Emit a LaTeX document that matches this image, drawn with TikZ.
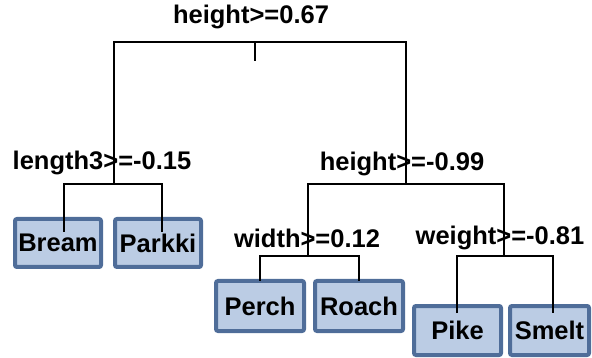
\documentclass[tikz,border=0pt]{standalone}
\usepackage{fontspec}
\setmainfont{Liberation Sans}
\definecolor{boxline}{HTML}{4F6D99}
\definecolor{boxfill}{HTML}{BBCCE4}
\tikzset{
  splitlabel/.style={font=\fontsize{25.5}{30}\selectfont\bfseries, inner sep=0pt, text=black},
  leafbox/.style={draw=boxline, fill=boxfill, line width=4pt, rounded corners=2pt,
    inner sep=0pt, font=\fontsize{25.5}{30}\selectfont\bfseries, text=black},
  edge/.style={draw=black, line width=1.3pt}
}
\begin{document}
\begin{tikzpicture}[x=1pt, y=-1pt]
\useasboundingbox (0,0) rectangle (592,358);

% split labels
\node[splitlabel] (n1) at (251,17) {height>=0.67};
\node[splitlabel] (n2) at (102,163) {length3>=-0.15};
\node[splitlabel] (n3) at (402,164) {height>=-0.99};
\node[splitlabel] (n4) at (307,238) {width>=0.12};
\node[splitlabel] (n5) at (500,238) {weight>=-0.81};

% leaves
\node[leafbox, minimum width=86pt, minimum height=48pt] (bream) at (58,243) {Bream};
\node[leafbox, minimum width=86pt, minimum height=48pt] (parkki) at (158,243) {Parkki};
\node[leafbox, minimum width=88pt, minimum height=50pt] (perch) at (260,306) {Perch};
\node[leafbox, minimum width=88pt, minimum height=50pt] (roach) at (359,306) {Roach};
\node[leafbox, minimum width=87pt, minimum height=49pt] (pike) at (457.5,330.5) {Pike};
\node[leafbox, minimum width=79pt, minimum height=49pt] (smelt) at (549.5,330.5) {Smelt};

% junction points of the tree
\coordinate (c1) at (255,42);
\coordinate (t1) at (255,61);
\coordinate (c1l) at (114,42);
\coordinate (c1r) at (406,42);
\coordinate (c2) at (114,184);
\coordinate (c3) at (406,184);
\coordinate (c4) at (308,256);
\coordinate (c5) at (504,256);

% edges
\draw[edge] (c1) -- (t1);
\draw[edge] (c2) -- (c1l) -- (c1r) -- (c3);
\draw[edge] ([xshift=6pt,yshift=-15pt]bream.north) |- (c2) -| ([xshift=4pt,yshift=-15pt]parkki.north);
\draw[edge] (c4) |- (c3) -| (c5);
\draw[edge] ([yshift=-2pt]perch.north) |- (c4) -| ([yshift=-2pt]roach.north);
\draw[edge] ([xshift=-0.5pt,yshift=-9pt]pike.north) |- (c5) -| ([xshift=3.5pt,yshift=-9pt]smelt.north);
\end{tikzpicture}
\end{document}
